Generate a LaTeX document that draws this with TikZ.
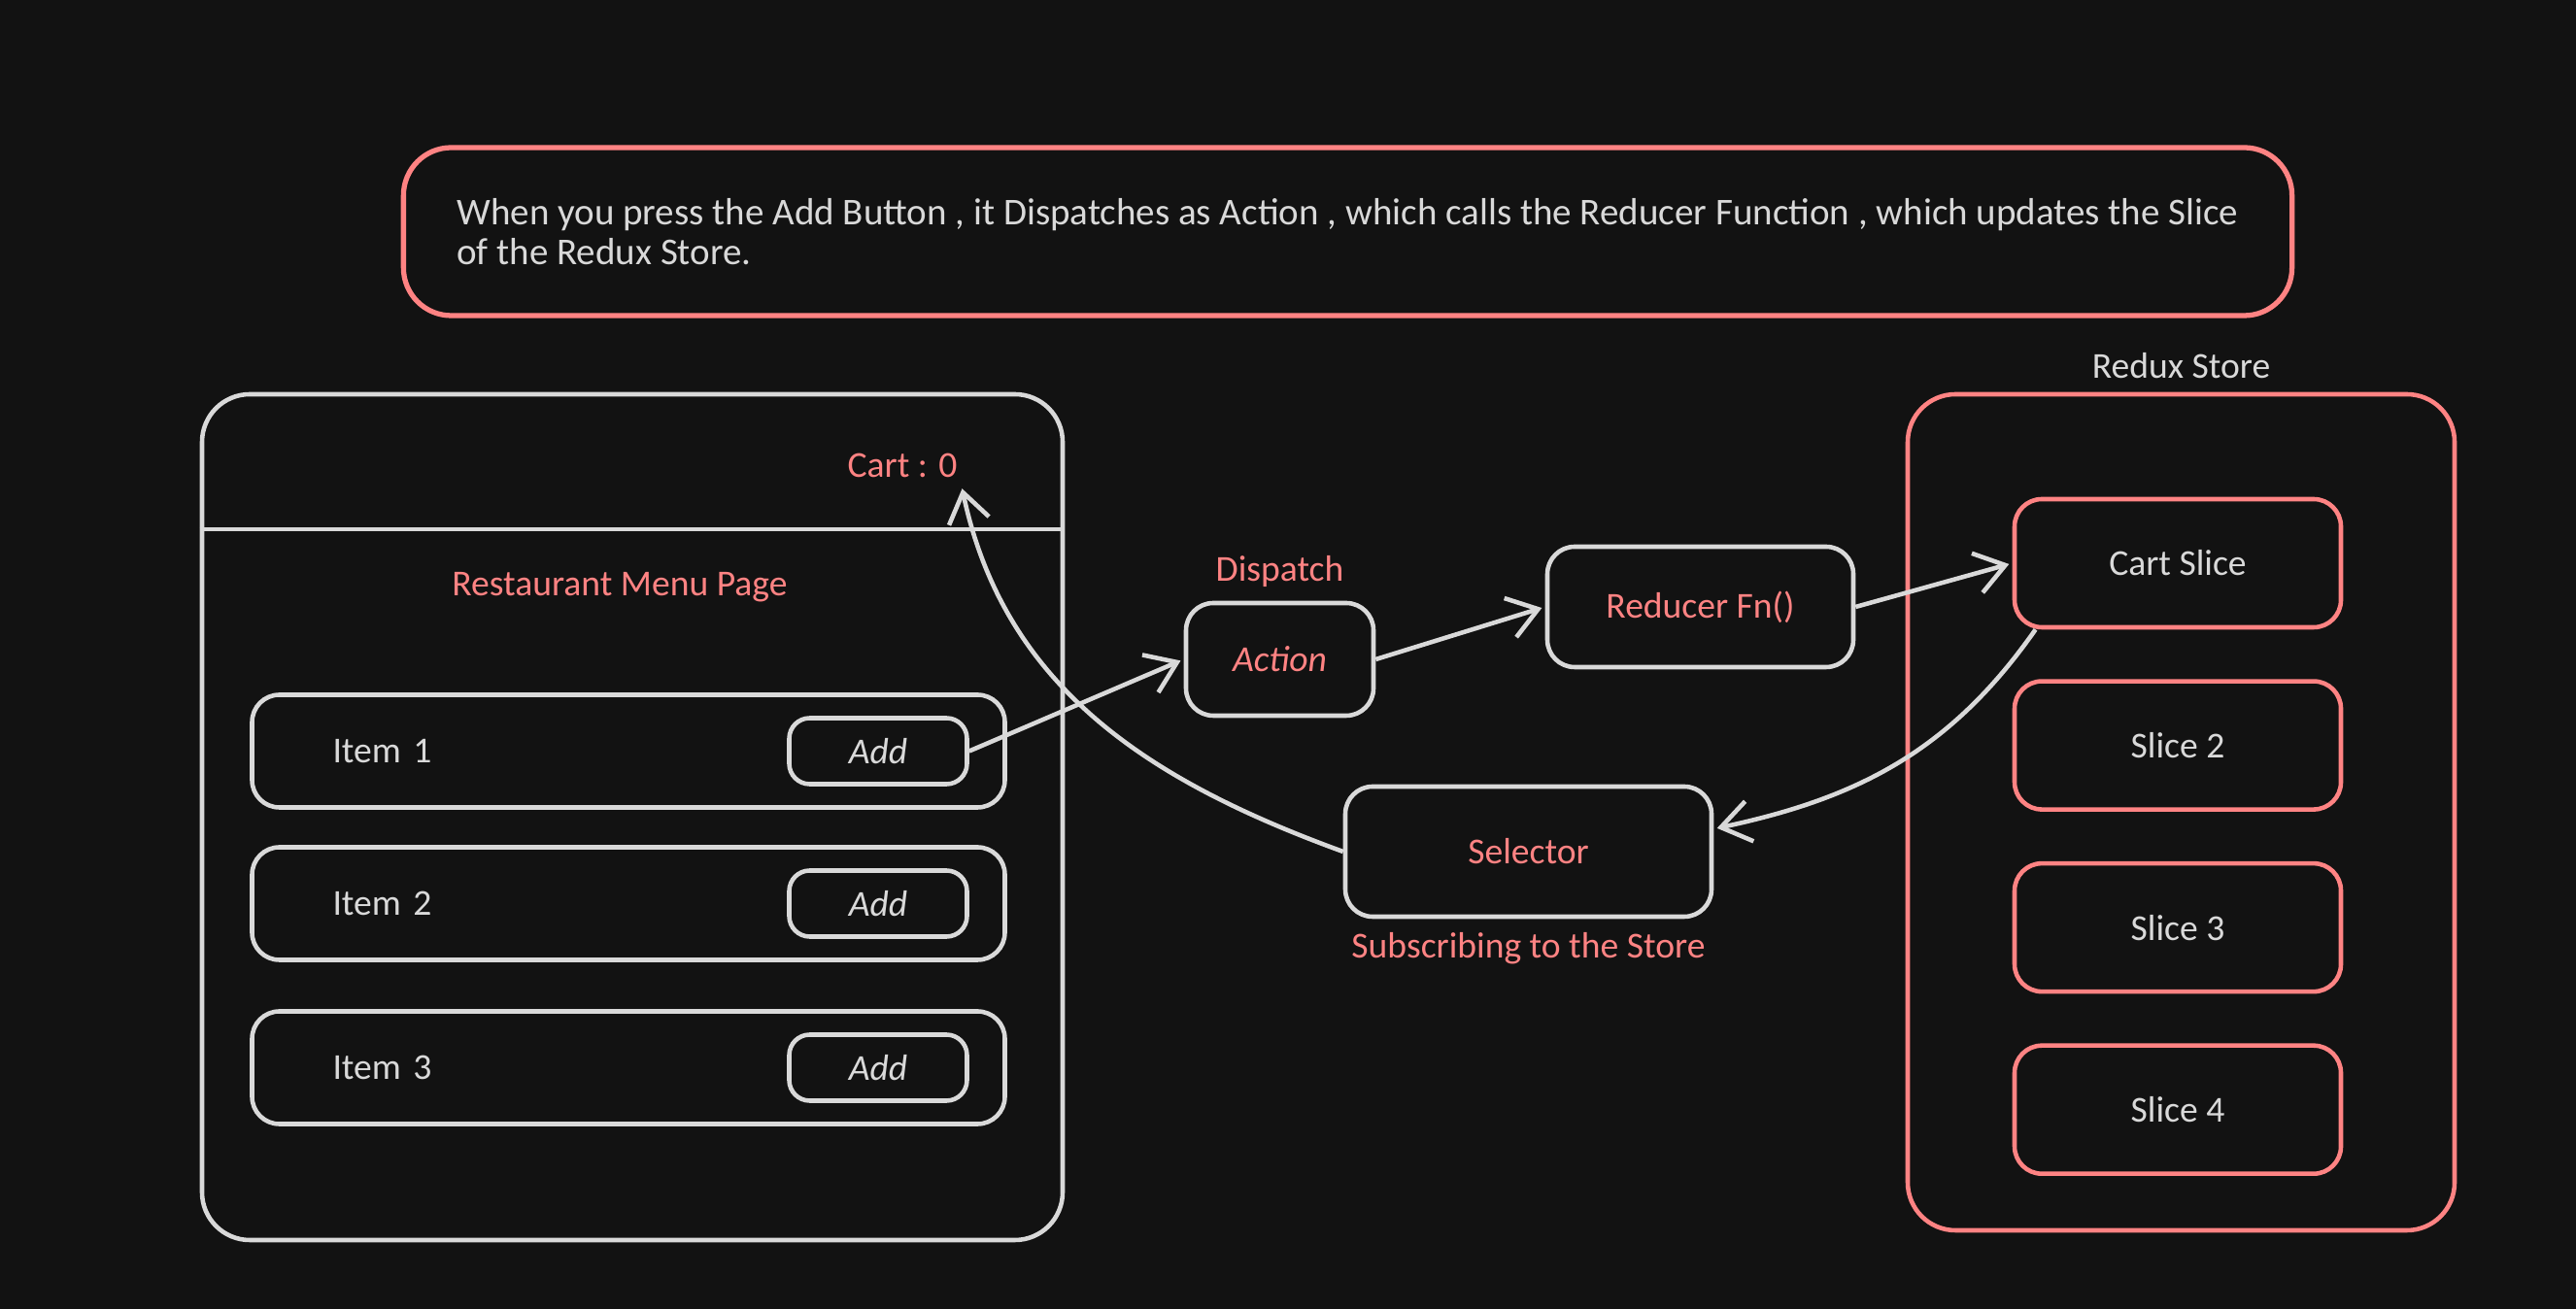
\documentclass[tikz,border=0pt]{standalone}
\usepackage{fontspec}
\setmainfont{Carlito}
\usetikzlibrary{arrows.meta, positioning}
\definecolor{bgdark}{HTML}{121212}
\definecolor{chalk}{HTML}{D9D9D9}
\definecolor{salmon}{HTML}{FF8383}

\begin{document}
\begin{tikzpicture}
    \tikzstyle{every node} = [font=\fontsize{10.7}{12}\selectfont]
    \tikzstyle{box} = [draw=chalk, line width=1.3pt, rectangle, rounded corners=8pt]
    \tikzstyle{bigbox} = [box, rounded corners=14pt]
    \tikzstyle{itembox} = [box, minimum width=7.75cm, minimum height=1.16cm, text width=6.09cm, inner xsep=0.83cm, align=left, text=chalk]
    \tikzstyle{addbtn} = [box, rounded corners=6pt, minimum width=1.83cm, minimum height=0.68cm, text=chalk, font=\fontsize{10.7}{12}\selectfont\itshape]
    \tikzstyle{slicebox} = [box, draw=salmon, minimum width=3.36cm, minimum height=1.32cm, text=chalk]
    \tikzstyle{redtext} = [text=salmon]
    \tikzstyle{flow} = [-{Straight Barb[length=0.3cm,width=0.42cm]}, draw=chalk, line width=1.3pt, shorten >=1pt]

    % background and page size
    \fill[bgdark] (0,0) rectangle (26.52,13.48);
    \useasboundingbox (0,0) rectangle (26.52,13.48);

    % note on top
    \node[bigbox, draw=salmon, line width=1.5pt, minimum width=19.37cm, minimum height=1.73cm, inner xsep=0.55cm, align=left, text=chalk, font=\fontsize{11.1}{11.6}\selectfont] (note) at (13.875,11.095)
    {When you press the Add Button , it Dispatches as Action , which calls the Reducer Function , which updates the Slice\\of the Redux Store.};

    % place nodes: menu page
    \node[bigbox, minimum width=8.86cm, minimum height=8.71cm] (page) at (6.51,5.065) {};
    \coordinate (divider) at (0,8.03);
    \draw[chalk, line width=1.3pt] (page.west |- divider) -- (page.east |- divider);
    \node[redtext] (cart) at (9.29,8.69) {Cart : 0};
    \node[redtext] (menu) at (6.38,7.43) {Restaurant Menu Page};
    \foreach \i/\y in {1/5.745,2/4.175,3/2.485}{
        \node[itembox] (item\i) at (6.47,\y) {Item \i};
        \node[addbtn, left=0.39cm of item\i.east] (add\i) {Add};
    }

    % place nodes: middle
    \node[box, minimum width=1.93cm, minimum height=1.16cm, text=salmon, font=\fontsize{10.7}{12}\selectfont\itshape] (action) at (13.175,6.69) {Action};
    \node[redtext, above=0.02cm of action] (dispatch) {Dispatch};
    \node[box, minimum width=3.15cm, minimum height=1.24cm, text=salmon] (reducer) at (17.505,7.23) {Reducer Fn()};
    \node[box, minimum width=3.77cm, minimum height=1.34cm, text=salmon] (selector) at (15.735,4.71) {Selector};
    \node[redtext, below=0.02cm of selector] (subscribe) {Subscribing to the Store};

    % place nodes: store
    \node[bigbox, draw=salmon, minimum width=5.63cm, minimum height=8.61cm] (store) at (22.455,5.115) {};
    \node[text=chalk, above=0.02cm of store] (storename) {Redux Store};
    \node[slicebox] (slice1) at (22.42,7.68) {Cart Slice};
    \foreach \i/\p in {2/1,3/2,4/3}{
        \node[slicebox, below=0.51cm of slice\p] (slice\i) {Slice \i};
    }

    % Connections
    \draw[flow] (add1.east) -- (action.west);
    \draw[flow] (action.east) -- (reducer.west);
    \draw[flow] (reducer.east) -- (slice1.west);
    \draw[flow] (slice1.205) to[out=-125, in=12] (selector.7);
    \draw[flow] (selector.west) to[out=160, in=-78] ([xshift=-0.08cm,yshift=0.04cm]cart.south east);
\end{tikzpicture}
\end{document}
